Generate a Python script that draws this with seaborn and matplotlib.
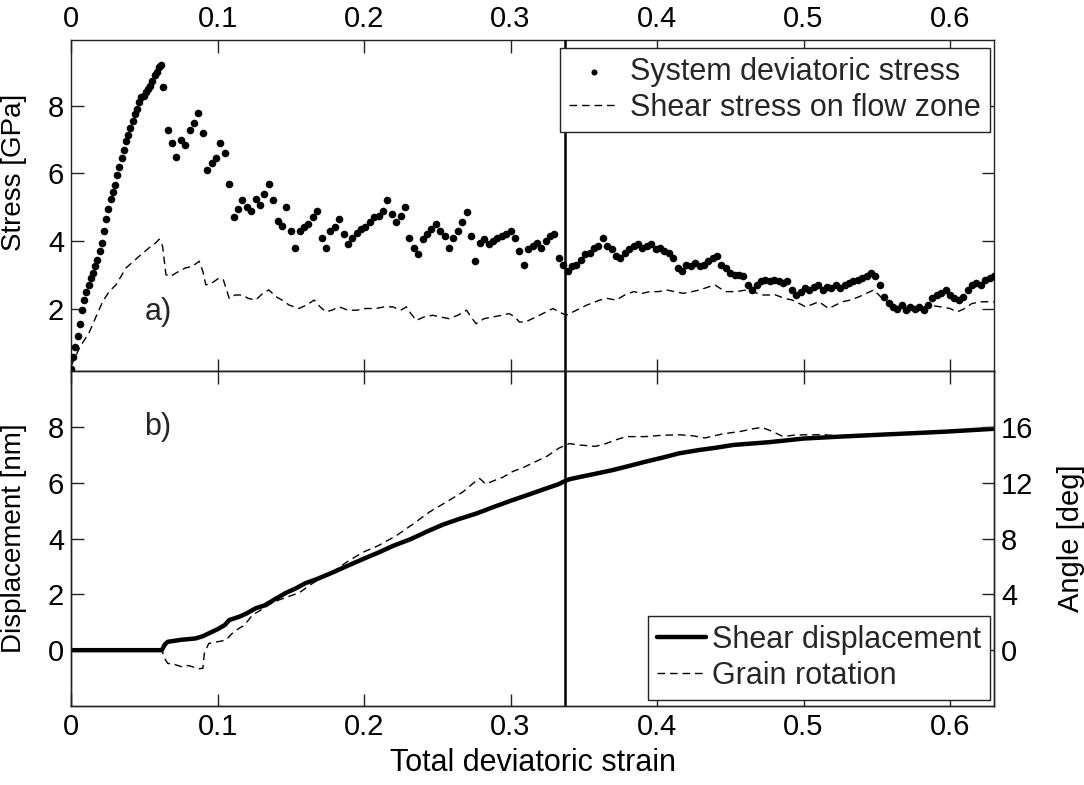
import numpy as np
import pandas as pd
import matplotlib
matplotlib.use("Agg")
import matplotlib.pyplot as plt
import seaborn as sns

# ---------------- data ----------------
# system deviatoric stress: loading branch read every 0.0015 strain (0 .. 0.0615)
rise_step = 0.0015
rise_stress = [
    0.20, 0.55, 0.85, 1.20, 1.55, 1.95, 2.25, 2.50, 2.70, 2.90,
    3.05, 3.25, 3.45, 3.70, 3.95, 4.30, 4.65, 4.95, 5.25, 5.45,
    5.65, 5.95, 6.20, 6.45, 6.70, 6.95, 7.15, 7.35, 7.55, 7.75,
    7.90, 8.10, 8.25, 8.30, 8.40, 8.50, 8.60, 8.75, 8.90, 9.00,
    9.15, 9.20,
]
# then read every 0.003 strain from 0.063 to 0.63
tail_start, tail_step = 0.063, 0.003
tail_stress = [
    8.55, 7.30, 6.90, 6.50, 7.00, 6.85, 7.30, 7.50, 7.80,
    7.20, 6.10, 6.30, 6.45, 6.90, 6.60, 5.70, 4.70, 4.95, 5.20,
    5.00, 4.90, 5.25, 5.05, 5.40, 5.70, 5.20, 4.60, 4.45, 5.00,
    4.30, 3.80, 4.30, 4.40, 4.50, 4.70, 4.90, 4.10, 3.80, 4.30,
    4.40, 4.65, 4.20, 3.90, 4.10, 4.25, 4.35, 4.40, 4.55, 4.70,
    4.75, 4.90, 5.20, 4.80, 4.55, 4.75, 5.00, 4.10, 3.80, 3.60,
    4.05, 4.20, 4.35, 4.50, 4.30, 4.15, 3.80, 4.10, 4.30, 4.55,
    4.85, 4.15, 3.40, 3.95, 4.05, 3.90, 4.00, 4.10, 4.15, 4.20,
    4.30, 4.10, 3.70, 3.30, 3.75, 3.85, 3.95, 3.80, 4.00, 4.15,
    4.20, 3.50, 3.30, 3.10, 3.25, 3.30, 3.45, 3.60, 3.65, 3.80,
    3.85, 4.10, 3.85, 3.75, 3.55, 3.50, 3.65, 3.75, 3.85, 3.90,
    3.80, 3.85, 3.90, 3.75, 3.80, 3.70, 3.65, 3.50, 3.20, 3.10,
    3.30, 3.25, 3.35, 3.25, 3.30, 3.40, 3.50, 3.55, 3.30, 3.20,
    3.05, 3.00, 3.00, 2.95, 2.70, 2.55, 2.70, 2.80, 2.85, 2.80,
    2.85, 2.80, 2.75, 2.80, 2.55, 2.40, 2.50, 2.60, 2.55, 2.65,
    2.70, 2.55, 2.65, 2.60, 2.70, 2.60, 2.70, 2.75, 2.80, 2.85,
    2.90, 2.95, 3.05, 2.95, 2.70, 2.35, 2.15, 2.05, 2.00, 2.10,
    1.95, 2.05, 2.00, 2.05, 1.95, 2.10, 2.30, 2.40, 2.45, 2.55,
    2.40, 2.30, 2.25, 2.35, 2.55, 2.70, 2.75, 2.70, 2.85, 2.90,
    2.95,
]
sys_strain = ([round(i * rise_step, 4) for i in range(len(rise_stress))] +
              [round(tail_start + i * tail_step, 4) for i in range(len(tail_stress))])
sys_stress = rise_stress + tail_stress

# shear stress on flow zone
flow_strain = [
    0.000, 0.006, 0.0125, 0.017, 0.0216, 0.026, 0.0307, 0.0375, 0.0466, 0.0534,
    0.058, 0.0602, 0.0625, 0.0648, 0.068, 0.0716, 0.078, 0.083, 0.0875, 0.090,
    0.092, 0.096, 0.101, 0.104, 0.108, 0.112, 0.117, 0.121, 0.126, 0.131,
    0.135, 0.140, 0.144, 0.149, 0.1556, 0.1606, 0.166, 0.170, 0.174, 0.178,
    0.183, 0.189, 0.195, 0.201, 0.208, 0.214, 0.2197, 0.225, 0.229, 0.232,
    0.2357, 0.241, 0.247, 0.252, 0.258, 0.264, 0.270, 0.273, 0.2765, 0.282,
    0.288, 0.294, 0.299, 0.303, 0.306, 0.310, 0.315, 0.322, 0.329, 0.333,
    0.338, 0.345, 0.352, 0.361, 0.366, 0.372, 0.378, 0.384, 0.390, 0.395,
    0.401, 0.4065, 0.412, 0.418, 0.424, 0.429, 0.4394, 0.443, 0.447, 0.454,
    0.461, 0.4724, 0.481, 0.487, 0.4924, 0.497, 0.5015, 0.5106, 0.517, 0.5265,
    0.532, 0.538, 0.543, 0.548, 0.5537, 0.559, 0.565, 0.572, 0.579, 0.586,
    0.5935, 0.600, 0.605, 0.610, 0.615, 0.622, 0.630,
]
flow_stress = [
    0.30, 0.85, 1.30, 1.75, 2.20, 2.50, 2.70, 3.20, 3.55, 3.80,
    3.95, 4.05, 3.85, 3.00, 2.95, 3.05, 3.20, 3.25, 3.40, 3.10,
    2.70, 2.75, 2.90, 2.85, 2.30, 2.40, 2.40, 2.30, 2.25, 2.45,
    2.55, 2.35, 2.25, 2.10, 2.00, 2.10, 2.25, 2.05, 1.90, 1.95,
    2.05, 1.95, 1.95, 2.00, 2.00, 2.05, 2.05, 1.95, 2.05, 1.85,
    1.65, 1.75, 1.80, 1.75, 1.70, 1.80, 1.95, 1.75, 1.55, 1.70,
    1.75, 1.80, 1.85, 1.75, 1.60, 1.60, 1.70, 1.85, 2.00, 1.90,
    1.80, 1.95, 2.10, 2.25, 2.30, 2.25, 2.40, 2.50, 2.45, 2.50,
    2.50, 2.55, 2.50, 2.45, 2.50, 2.55, 2.70, 2.60, 2.50, 2.50,
    2.55, 2.40, 2.40, 2.30, 2.25, 2.15, 2.05, 2.20, 2.00, 2.20,
    2.25, 2.35, 2.45, 2.55, 2.30, 2.15, 2.05, 2.00, 2.00, 2.10,
    2.05, 2.00, 1.90, 2.00, 2.15, 2.20, 2.20,
]

# shear displacement [nm]
disp_strain = [
    0.000, 0.062, 0.064, 0.066, 0.075, 0.085, 0.090, 0.096, 0.100, 0.105,
    0.108, 0.115, 0.120, 0.126, 0.132, 0.140, 0.1466, 0.153, 0.160, 0.168,
    0.178, 0.190, 0.200, 0.210, 0.220, 0.232, 0.243, 0.254, 0.265, 0.277,
    0.288, 0.300, 0.3106, 0.322, 0.333, 0.336, 0.340, 0.347, 0.358, 0.3697,
    0.381, 0.392, 0.404, 0.415, 0.4288, 0.440, 0.452, 0.4765, 0.500, 0.525,
    0.549, 0.574, 0.598, 0.630,
]
disp_nm = [
    0.00, 0.00, 0.20, 0.30, 0.37, 0.42, 0.50, 0.65, 0.75, 0.90,
    1.08, 1.20, 1.32, 1.50, 1.60, 1.85, 2.05, 2.20, 2.40, 2.55,
    2.77, 3.05, 3.28, 3.50, 3.74, 3.98, 4.25, 4.50, 4.70, 4.90,
    5.12, 5.35, 5.54, 5.75, 5.95, 6.03, 6.12, 6.20, 6.32, 6.45,
    6.60, 6.75, 6.90, 7.05, 7.17, 7.25, 7.35, 7.45, 7.58, 7.65,
    7.71, 7.77, 7.83, 7.93,
]

# grain rotation [deg]
rot_strain = [
    0.000, 0.062, 0.064, 0.066, 0.070, 0.076, 0.080, 0.0875, 0.090, 0.091,
    0.094, 0.100, 0.1057, 0.110, 0.1147, 0.118, 0.124, 0.130, 0.136, 0.142,
    0.150, 0.1556, 0.165, 0.178, 0.188, 0.199, 0.210, 0.222, 0.233, 0.2447,
    0.256, 0.2674, 0.275, 0.279, 0.283, 0.290, 0.295, 0.3015, 0.309, 0.317,
    0.325, 0.333, 0.340, 0.347, 0.358, 0.365, 0.372, 0.379, 0.392, 0.404,
    0.4156, 0.425, 0.4326, 0.445, 0.457, 0.465, 0.4716, 0.478, 0.4862, 0.493,
    0.5008, 0.5147, 0.530, 0.550, 0.570, 0.590, 0.610, 0.630,
]
rot_deg = [
    0.00, 0.00, -0.60, -0.95, -1.00, -1.20, -1.10, -1.33, -1.30, -0.24,
    0.48, 0.60, 0.72, 1.20, 1.57, 1.75, 2.53, 2.90, 3.30, 3.60,
    3.90, 4.10, 4.80, 5.55, 6.30, 7.00, 7.50, 8.20, 9.00, 9.90,
    10.60, 11.33, 12.00, 12.30, 11.90, 12.20, 12.40, 12.80, 13.10, 13.50,
    13.90, 14.47, 14.80, 14.70, 14.60, 14.80, 15.07, 15.30, 15.30, 15.40,
    15.43, 15.35, 15.20, 15.50, 15.67, 15.85, 15.96, 15.70, 15.30, 15.40,
    15.43, 15.43, 15.30, 15.40, 15.55, 15.60, 15.70, 15.80,
]

marker_strain = 0.337
x_ticks = [0, 0.1, 0.2, 0.3, 0.4, 0.5, 0.6]
x_ticklabels = ["0", "0.1", "0.2", "0.3", "0.4", "0.5", "0.6"]
stress_ticks = [2, 4, 6, 8]
disp_ticks = [0, 2, 4, 6, 8]
angle_ticks = [0, 4, 8, 12, 16]

# ---------------- style ----------------
sns.set_theme(style="white")
plt.rcParams["font.family"] = ["Liberation Sans", "DejaVu Sans"]
plt.rcParams.update({
    "axes.edgecolor": "#222222",
    "axes.linewidth": 1.0,
    "xtick.color": "#222222",
    "ytick.color": "#222222",
    "xtick.labelcolor": "black",
    "ytick.labelcolor": "black",
    "axes.labelcolor": "black",
})

FS = 21      # tick labels
FL = 22      # axis labels / legend
FY = 20      # rotated left labels

fig = plt.figure(figsize=(10.84, 7.85), dpi=100)
L, W = 71 / 1084, (994 - 71) / 1084
ax1 = fig.add_axes([L, 1 - 371 / 785, W, (371 - 40) / 785])
ax2 = fig.add_axes([L, 1 - 706 / 785, W, (706 - 371) / 785])
ax2r = ax2.twinx()

sys_df = pd.DataFrame({"strain": sys_strain, "stress": sys_stress})
flow_df = pd.DataFrame({"strain": flow_strain, "stress": flow_stress})
disp_df = pd.DataFrame({"strain": disp_strain, "disp": disp_nm})
rot_df = pd.DataFrame({"strain": rot_strain, "deg": rot_deg})

dash = (0, (5.5, 3.5))

# top panel
sns.scatterplot(data=sys_df, x="strain", y="stress", ax=ax1, color="black",
                s=30, linewidth=0, label="System deviatoric stress", legend=False,
                zorder=3)
sns.lineplot(data=flow_df, x="strain", y="stress", ax=ax1, color="black",
             lw=1.0, linestyle=dash, sort=False, estimator=None,
             label="Shear stress on flow zone", legend=False)
ax1.axvline(marker_strain, color="black", lw=1.8, zorder=4)

# bottom panel
sns.lineplot(data=disp_df, x="strain", y="disp", ax=ax2, color="black",
             lw=3.2, sort=False, estimator=None, label="Shear displacement",
             legend=False)
sns.lineplot(data=rot_df, x="strain", y="deg", ax=ax2r, color="black",
             lw=1.0, linestyle=dash, sort=False, estimator=None,
             label="Grain rotation", legend=False)
ax2.axvline(marker_strain, color="black", lw=1.8, zorder=4)

# limits & ticks
for ax in (ax1, ax2):
    ax.set_xlim(0, 0.63)
    ax.set_xticks(x_ticks)
    ax.set_xticklabels(x_ticklabels, fontsize=FS)
ax1.set_ylim(0.15, 9.95)
ax1.set_yticks(stress_ticks)
ax1.set_yticklabels([str(t) for t in stress_ticks], fontsize=FS)
ax2.set_ylim(-2, 10)
ax2.set_yticks(disp_ticks)
ax2.set_yticklabels([str(t) for t in disp_ticks], fontsize=FS)
ax2r.set_ylim(-4, 20)
ax2r.set_yticks(angle_ticks)
ax2r.set_yticklabels([str(t) for t in angle_ticks], fontsize=FS)

tk = dict(direction="in", length=9, width=1.0, pad=5)
ax1.tick_params(axis="x", top=True, bottom=True, labeltop=True,
                labelbottom=False, **tk)
ax1.tick_params(axis="y", left=True, right=True, labelleft=True,
                labelright=False, **tk)
ax2.tick_params(axis="x", top=True, bottom=True, labeltop=False,
                labelbottom=True, **tk)
ax2.tick_params(axis="y", left=True, right=False, labelleft=True, **tk)
ax2r.tick_params(axis="y", right=True, labelright=True, **tk)

ax1.set_xlabel("")
ax1.set_ylabel("Stress [GPa]", fontsize=FY)
ax2.set_ylabel("Displacement [nm]", fontsize=FY)
ax2r.set_ylabel("Angle [deg]", fontsize=21)
ax2.set_xlabel("Total deviatoric strain", fontsize=FL, labelpad=5)
ax1.yaxis.set_label_coords(-0.048, 0.6)
ax2.yaxis.set_label_coords(-0.048, 0.5)
ax2r.yaxis.set_label_coords(1.068, 0.5)

ax1.text(0.050, 1.9, "a)", fontsize=FL, va="center", ha="left")
ax2.text(0.050, 8.0, "b)", fontsize=FL, va="center", ha="left")

# legends
h1, l1 = ax1.get_legend_handles_labels()
leg1 = ax1.legend(h1, l1, loc="upper right", bbox_to_anchor=(0.996, 0.977),
                  fontsize=FL, frameon=True, fancybox=False, framealpha=1,
                  edgecolor="#222222", handlelength=1.6, handletextpad=0.4,
                  borderpad=0.3, labelspacing=0.2, borderaxespad=0,
                  markerscale=0.8)
leg1.get_frame().set_linewidth(1.0)

h2, l2 = ax2.get_legend_handles_labels()
h3, l3 = ax2r.get_legend_handles_labels()
leg2 = ax2r.legend(h2 + h3, l2 + l3, loc="lower right",
                   bbox_to_anchor=(0.996, 0.018), fontsize=FL, frameon=True,
                   fancybox=False, framealpha=1, edgecolor="#222222",
                   handlelength=1.6, handletextpad=0.2, borderpad=0.3,
                   labelspacing=0.2, borderaxespad=0)
leg2.get_frame().set_linewidth(1.0)

for ax in (ax1, ax2, ax2r):
    for sp in ax.spines.values():
        sp.set_visible(True)
        sp.set_color("#222222")
        sp.set_linewidth(1.0)

fig.savefig("out.png", dpi=100)
